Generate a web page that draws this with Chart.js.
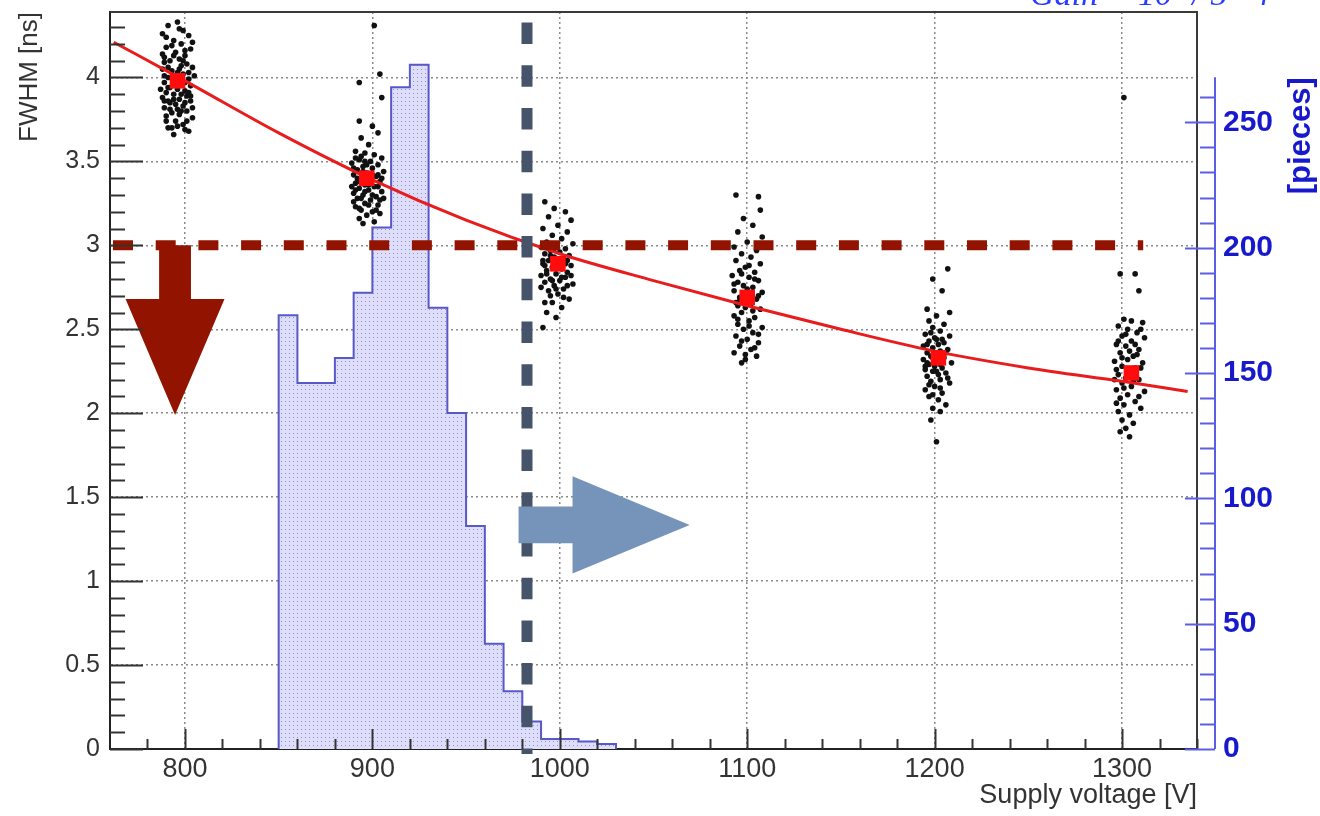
<!DOCTYPE html>
<html>
<head>
<meta charset="utf-8">
<script src="https://cdn.jsdelivr.net/npm/chart.js@4.4.1/dist/chart.umd.min.js"></script>
<style>
  body { margin: 0; background: #fff; }
  #wrap { width: 1320px; height: 816px; }
</style>
</head>
<body>
<div id="wrap"><canvas id="fwhmChart" width="1320" height="816"></canvas></div>
<script>
// histogram: number of tubes per operating voltage bin (right axis)
var histEdges = [850, 860, 870, 880, 890, 900, 910, 920, 930, 940, 950, 960, 970, 980, 990, 1000, 1010, 1020, 1030];
var histCounts = [173, 146, 146, 156, 182, 208, 264, 273, 176, 134, 89, 42, 23, 11, 4, 4, 3, 2];

// fit curve
var fitVoltage = [762, 800, 850, 900, 950, 1000, 1050, 1100, 1150, 1200, 1250, 1300, 1335];
var fitFwhm = [4.21, 3.98, 3.67, 3.39, 3.15, 2.95, 2.79, 2.64, 2.50, 2.37, 2.27, 2.19, 2.13];

// mean FWHM per voltage (red squares)
var meanVoltage = [796, 897, 999, 1100, 1202, 1305];
var meanFwhm = [3.98, 3.40, 2.89, 2.69, 2.33, 2.24];

// single measurements [voltage, fwhm]
var cluster800 = [[791,4.31],[796,4.33],[799,4.28],[788,4.26],[802,4.25],[794,4.22],[798,4.20],[790,4.18],[803,4.17],[795,4.15],[800,4.13],[789,4.12],[792,4.10],[797,4.11],[801,4.08],[804,4.06],[788,4.05],[793,4.04],[796,4.03],[799,4.02],[791,4.00],[802,3.99],[795,3.98],[789,3.97],[798,3.96],[803,3.95],[792,3.94],[796,3.93],[800,3.92],[790,3.91],[794,3.90],[801,3.89],[788,3.88],[797,3.87],[803,3.86],[792,3.85],[795,3.84],[799,3.83],[789,3.82],[801,3.80],[793,3.79],[797,3.78],[790,3.77],[804,3.76],[795,3.74],[799,3.72],[791,3.70],[802,3.68],[794,3.66],[800,3.69],[787,3.93],[805,4.01],[793,4.19],[798,4.07],[791,3.86],[802,3.91],[796,3.81],[789,4.09],[800,4.16],
    [790,4.24],[797,4.29],[804,4.21],[788,4.14],[794,4.13],[799,4.10],[791,4.06],[797,4.05],[802,4.03],[789,4.01],[794,3.96],[800,3.97],[791,3.94],[798,3.90],[803,3.89],[789,3.86],[794,3.87],[800,3.85],[792,3.81],[798,3.80],[804,3.82],[790,3.74],[796,3.71],[801,3.74],[793,3.70]];
var cluster900 = [[901,4.31],[904,4.02],[893,3.97],[905,3.88],[893,3.74],[900,3.71],[894,3.64],[903,3.67],[898,3.60],[891,3.56],[896,3.55],[901,3.54],[905,3.52],[893,3.51],[899,3.50],[889,3.49],[903,3.48],[895,3.47],[900,3.46],[892,3.45],[906,3.44],[897,3.43],[890,3.42],[902,3.41],[894,3.40],[899,3.39],[904,3.38],[891,3.37],[896,3.36],[901,3.35],[893,3.34],[898,3.33],[905,3.32],[890,3.31],[895,3.30],[902,3.29],[892,3.28],[899,3.27],[896,3.25],[903,3.24],[891,3.23],[894,3.21],[900,3.20],[897,3.18],[893,3.16],[901,3.14],[895,3.13],[904,3.19],[898,3.36],[892,3.40],[906,3.28],[889,3.35],[897,3.48],[903,3.42],[894,3.53],
    [890,3.46],[895,3.44],[900,3.42],[905,3.40],[892,3.38],[897,3.37],[903,3.35],[891,3.33],[896,3.32],[900,3.30],[894,3.28],[904,3.27],[890,3.26],[898,3.24],[893,3.22],[902,3.21],[896,3.50],[891,3.52]];
var cluster1000 = [[992,3.26],[997,3.22],[1003,3.20],[994,3.17],[1006,3.15],[999,3.12],[991,3.10],[1004,3.08],[996,3.06],[1001,3.04],[993,3.02],[1007,3.01],[998,3.00],[990,2.99],[1003,2.98],[995,2.97],[1000,2.96],[992,2.95],[1005,2.94],[997,2.93],[1002,2.92],[994,2.91],[999,2.90],[991,2.89],[1006,2.88],[996,2.87],[1001,2.86],[993,2.85],[1004,2.84],[998,2.83],[990,2.82],[1003,2.81],[995,2.80],[1000,2.79],[992,2.78],[1007,2.77],[997,2.76],[1002,2.74],[994,2.73],[999,2.71],[1005,2.68],[996,2.66],[1001,2.63],[993,2.60],[998,2.57],[991,2.51],[1004,2.91],[997,2.98],[992,2.88],[1006,2.82],
    [995,2.94],[1000,2.92],[991,2.91],[1003,2.89],[997,2.87],[993,2.83],[1001,2.81],[996,2.79],[1004,2.76],[990,2.75],[998,2.74],[995,2.70],[1002,2.69],[992,2.66]];
var cluster1100 = [[1094,3.30],[1106,3.29],[1107,3.21],[1098,3.16],[1103,3.12],[1095,3.08],[1108,3.05],[1100,3.02],[1093,2.99],[1105,2.97],[1097,2.95],[1102,2.93],[1094,2.91],[1107,2.89],[1099,2.87],[1096,2.85],[1104,2.84],[1092,2.82],[1101,2.81],[1106,2.79],[1095,2.78],[1098,2.76],[1103,2.75],[1093,2.73],[1108,2.72],[1100,2.71],[1096,2.69],[1105,2.68],[1094,2.66],[1102,2.65],[1099,2.63],[1107,2.62],[1097,2.60],[1093,2.58],[1104,2.57],[1101,2.55],[1095,2.53],[1108,2.51],[1098,2.50],[1103,2.48],[1094,2.46],[1100,2.44],[1106,2.42],[1096,2.40],[1102,2.38],[1093,2.36],[1105,2.34],[1099,2.32],[1097,2.30],[1101,2.88],[1095,2.64],
    [1097,2.83],[1104,2.80],[1093,2.77],[1100,2.74],[1106,2.70],[1096,2.67],[1103,2.61],[1095,2.56],[1101,2.52],[1106,2.47],[1097,2.43],[1104,2.39],[1099,2.35]];
var cluster1200 = [[1207,2.86],[1199,2.80],[1204,2.73],[1208,2.60],[1196,2.62],[1201,2.58],[1197,2.55],[1205,2.53],[1199,2.51],[1203,2.49],[1195,2.47],[1208,2.46],[1200,2.45],[1197,2.43],[1205,2.42],[1202,2.41],[1194,2.40],[1199,2.39],[1207,2.38],[1203,2.37],[1196,2.36],[1201,2.35],[1198,2.34],[1205,2.33],[1194,2.32],[1202,2.31],[1209,2.30],[1197,2.29],[1200,2.28],[1204,2.27],[1195,2.26],[1199,2.25],[1206,2.24],[1202,2.23],[1196,2.22],[1203,2.20],[1198,2.19],[1208,2.18],[1200,2.16],[1195,2.14],[1204,2.12],[1197,2.10],[1202,2.08],[1206,2.05],[1199,2.03],[1203,2.01],[1198,1.96],[1201,1.83],[1201,2.44],[1196,2.30],
    [1198,2.48],[1204,2.44],[1196,2.41],[1206,2.36],[1199,2.33],[1203,2.29],[1195,2.28],[1201,2.25],[1207,2.21],[1197,2.17],[1203,2.15],[1199,2.11]];
var cluster1300 = [[1301,3.88],[1299,2.83],[1307,2.83],[1309,2.73],[1301,2.56],[1305,2.55],[1311,2.54],[1298,2.52],[1303,2.50],[1308,2.48],[1300,2.46],[1312,2.45],[1305,2.43],[1297,2.41],[1302,2.40],[1309,2.38],[1299,2.36],[1306,2.34],[1303,2.32],[1296,2.31],[1311,2.30],[1300,2.28],[1307,2.27],[1304,2.25],[1298,2.23],[1302,2.21],[1309,2.20],[1300,2.18],[1305,2.16],[1297,2.14],[1312,2.13],[1303,2.11],[1299,2.09],[1307,2.07],[1301,2.05],[1310,2.03],[1298,2.01],[1304,1.99],[1300,1.96],[1306,1.94],[1302,1.91],[1299,1.89],[1304,1.86],[1308,2.35],[1297,2.26],
    [1310,2.50],[1302,2.47],[1298,2.43],[1307,2.41],[1304,2.37],[1300,2.33],[1310,2.27],[1296,2.20],[1306,2.19],[1301,2.15],[1309,2.10],[1297,2.06]];

// cut lines
var fwhmLimit = 3.0;
var voltageLimit = 982.5;

var ctx = document.getElementById('fwhmChart').getContext('2d');

// dotted fill like the ROOT hatch style
function dotPattern() {
    var c = document.createElement('canvas');
    c.width = 4; c.height = 4;
    var g = c.getContext('2d');
    g.fillStyle = 'rgb(222,222,250)';
    g.fillRect(0, 0, 4, 4);
    g.fillStyle = 'rgb(145,145,200)';
    g.fillRect(1, 1, 1, 1);
    return ctx.createPattern(c, 'repeat');
}

function histOutline() {
    var pts = [{x: histEdges[0], y: 0}];
    for (var i = 0; i < histCounts.length; i++) {
        pts.push({x: histEdges[i], y: histCounts[i]});
        pts.push({x: histEdges[i + 1], y: histCounts[i]});
    }
    pts.push({x: histEdges[histEdges.length - 1], y: 0});
    return pts;
}

function pairs(list) {
    return list.map(function(p) { return {x: p[0], y: p[1]}; });
}

function zip(xs, ys) {
    return xs.map(function(x, i) { return {x: x, y: ys[i]}; });
}

var allPoints = pairs([].concat(cluster800, cluster900, cluster1000, cluster1100, cluster1200, cluster1300));

// arrows, in data units
var downArrow = {x: 794.7, top: 3.0, neck: 2.68, tip: 1.99, shaftHalf: 8.5, headHalf: 26.4};
var rightArrow = {y: 1.335, left: 978, neck: 1006.8, tip: 1069.3, shaftHalf: 0.11, headHalf: 0.29};

var decorations = {
    id: 'decorations',
    afterDatasetsDraw: function(chart) {
        var c = chart.ctx, a = chart.chartArea;
        var xs = chart.scales.x, ys = chart.scales.y, y2 = chart.scales.y2;
        var v, p, len;
        c.save();

        // down arrow
        c.fillStyle = 'rgb(146,20,0)';
        c.beginPath();
        c.moveTo(xs.getPixelForValue(downArrow.x - downArrow.shaftHalf), ys.getPixelForValue(downArrow.top));
        c.lineTo(xs.getPixelForValue(downArrow.x + downArrow.shaftHalf), ys.getPixelForValue(downArrow.top));
        c.lineTo(xs.getPixelForValue(downArrow.x + downArrow.shaftHalf), ys.getPixelForValue(downArrow.neck));
        c.lineTo(xs.getPixelForValue(downArrow.x + downArrow.headHalf), ys.getPixelForValue(downArrow.neck));
        c.lineTo(xs.getPixelForValue(downArrow.x), ys.getPixelForValue(downArrow.tip));
        c.lineTo(xs.getPixelForValue(downArrow.x - downArrow.headHalf), ys.getPixelForValue(downArrow.neck));
        c.lineTo(xs.getPixelForValue(downArrow.x - downArrow.shaftHalf), ys.getPixelForValue(downArrow.neck));
        c.closePath();
        c.fill();

        // right arrow
        c.fillStyle = 'rgb(118,148,186)';
        c.beginPath();
        c.moveTo(xs.getPixelForValue(rightArrow.left), ys.getPixelForValue(rightArrow.y + rightArrow.shaftHalf));
        c.lineTo(xs.getPixelForValue(rightArrow.neck), ys.getPixelForValue(rightArrow.y + rightArrow.shaftHalf));
        c.lineTo(xs.getPixelForValue(rightArrow.neck), ys.getPixelForValue(rightArrow.y + rightArrow.headHalf));
        c.lineTo(xs.getPixelForValue(rightArrow.tip), ys.getPixelForValue(rightArrow.y));
        c.lineTo(xs.getPixelForValue(rightArrow.neck), ys.getPixelForValue(rightArrow.y - rightArrow.headHalf));
        c.lineTo(xs.getPixelForValue(rightArrow.neck), ys.getPixelForValue(rightArrow.y - rightArrow.shaftHalf));
        c.lineTo(xs.getPixelForValue(rightArrow.left), ys.getPixelForValue(rightArrow.y - rightArrow.shaftHalf));
        c.closePath();
        c.fill();

        // frame top and right
        c.strokeStyle = '#3a3a3a';
        c.lineWidth = 2;
        c.beginPath();
        c.moveTo(a.left, a.top);
        c.lineTo(a.right, a.top);
        c.lineTo(a.right, a.bottom);
        c.stroke();

        // left axis ticks, pointing inward
        c.strokeStyle = '#333';
        c.lineWidth = 2;
        for (var i = 0; i <= 43; i++) {
            v = i / 10;
            p = Math.round(ys.getPixelForValue(v)) + 0.5;
            len = (i % 5 === 0) ? 33 : 15;
            c.beginPath();
            c.moveTo(a.left, p);
            c.lineTo(a.left + len, p);
            c.stroke();
        }

        // x axis ticks, pointing up
        for (v = 780; v <= 1340; v += 20) {
            p = Math.round(xs.getPixelForValue(v)) + 0.5;
            len = (v % 100 === 0) ? 20 : 10;
            c.beginPath();
            c.moveTo(p, a.bottom);
            c.lineTo(p, a.bottom - len);
            c.stroke();
        }

        // second axis for the histogram
        var ax = a.right + 18;
        c.strokeStyle = 'rgb(92,92,228)';
        c.beginPath();
        c.moveTo(ax, y2.getPixelForValue(0));
        c.lineTo(ax, y2.getPixelForValue(268));
        c.stroke();
        for (v = 0; v <= 260; v += 10) {
            p = Math.round(y2.getPixelForValue(v)) + 0.5;
            len = (v % 50 === 0) ? 30 : 15;
            c.beginPath();
            c.moveTo(ax, p);
            c.lineTo(ax - len, p);
            c.stroke();
        }

        // its title, rotated like the left one
        c.save();
        c.translate(1301, y2.getPixelForValue(268));
        c.rotate(-Math.PI / 2);
        c.fillStyle = 'rgb(24,24,205)';
        c.font = 'bold 31px "Liberation Sans", Arial, sans-serif';
        c.textAlign = 'right';
        c.textBaseline = 'middle';
        c.fillText('[pieces]', 0, 0);
        c.restore();

        // text cut off at the top of the picture
        c.fillStyle = 'rgb(40,60,255)';
        c.font = 'italic 34px "Liberation Serif", serif';
        c.textAlign = 'left';
        c.textBaseline = 'alphabetic';
        c.fillText('Gain = 10\u2077 / 5 \u00b7 4', 1030, 5);

        c.restore();
    }
};

function plainLabel(v) {
    return String(v);
}

var chart = new Chart(ctx, {
    type: 'scatter',
    data: {
        datasets: [
            {
                // horizontal cut
                type: 'line',
                data: [{x: 761.6, y: fwhmLimit}, {x: 1311.3, y: fwhmLimit}],
                borderColor: 'rgb(146,20,0)',
                borderWidth: 10,
                borderDash: [20, 22.7],
                pointRadius: 0,
                fill: false,
                order: 1
            },
            {
                // vertical cut
                type: 'line',
                data: [{x: voltageLimit, y: 4.327}, {x: voltageLimit, y: -0.03}],
                borderColor: 'rgb(70,84,107)',
                borderWidth: 11,
                borderDash: [21.5, 21.2],
                pointRadius: 0,
                fill: false,
                clip: false,
                order: 1
            },
            {
                type: 'scatter',
                data: zip(meanVoltage, meanFwhm),
                pointStyle: 'rect',
                pointRadius: 11,
                backgroundColor: 'rgb(255,12,12)',
                borderWidth: 0,
                order: 2
            },
            {
                type: 'line',
                data: zip(fitVoltage, fitFwhm),
                borderColor: 'rgb(232,28,28)',
                borderWidth: 3,
                cubicInterpolationMode: 'monotone',
                pointRadius: 0,
                fill: false,
                order: 3
            },
            {
                type: 'scatter',
                data: allPoints,
                pointRadius: 2.8,
                backgroundColor: '#111',
                borderWidth: 0,
                order: 4
            },
            {
                type: 'line',
                yAxisID: 'y2',
                data: histOutline(),
                borderColor: 'rgb(88,88,200)',
                borderWidth: 2,
                backgroundColor: dotPattern(),
                fill: 'origin',
                pointRadius: 0,
                tension: 0,
                order: 5
            }
        ]
    },
    options: {
        responsive: false,
        animation: false,
        layout: { padding: { top: 12, left: 0, right: 0, bottom: 0 } },
        plugins: {
            legend: { display: false },
            tooltip: { enabled: false }
        },
        scales: {
            x: {
                type: 'linear',
                min: 760,
                max: 1340,
                afterFit: function(s) {
                    s.height = 67;
                    s.paddingLeft = 0; s.paddingRight = 0;
                },
                grid: { color: '#8a8a8a', lineWidth: 1.5, drawTicks: false, tickLength: 0 },
                border: { display: true, color: '#222', width: 2, dash: [2, 3] },
                ticks: {
                    stepSize: 100,
                    includeBounds: false,
                    padding: 4,
                    color: '#333',
                    callback: plainLabel,
                    font: { family: '"Liberation Sans", Arial, sans-serif', size: 27 }
                },
                title: {
                    display: true,
                    text: 'Supply voltage [V]',
                    align: 'end',
                    color: '#333',
                    padding: { top: 0, bottom: 4 },
                    font: { family: '"Liberation Sans", Arial, sans-serif', size: 27 }
                }
            },
            y: {
                position: 'left',
                min: 0,
                max: 4.39,
                afterFit: function(s) {
                    s.width = 110;
                    s.paddingTop = 0; s.paddingBottom = 0;
                },
                grid: { color: '#8a8a8a', lineWidth: 1.5, drawTicks: false, tickLength: 0 },
                border: { display: true, color: '#222', width: 2, dash: [2, 3] },
                ticks: {
                    stepSize: 0.5,
                    includeBounds: false,
                    padding: 10,
                    color: '#333',
                    callback: plainLabel,
                    font: { family: '"Liberation Sans", Arial, sans-serif', size: 25 }
                },
                title: {
                    display: true,
                    text: 'FWHM [ns]',
                    align: 'end',
                    color: '#333',
                    padding: { top: 14, bottom: 0 },
                    font: { family: '"Liberation Sans", Arial, sans-serif', size: 26 }
                }
            },
            y2: {
                position: 'right',
                min: 0,
                max: 294,
                afterFit: function(s) {
                    s.width = 123;
                    s.paddingTop = 0; s.paddingBottom = 0;
                },
                grid: { display: false, drawTicks: false, tickLength: 0 },
                border: { display: false },
                ticks: {
                    stepSize: 50,
                    includeBounds: false,
                    padding: 26,
                    color: 'rgb(24,24,205)',
                    callback: plainLabel,
                    font: { family: '"Liberation Sans", Arial, sans-serif', size: 30, weight: 'bold' }
                }
            }
        }
    },
    plugins: [decorations]
});
</script>
</body>
</html>
